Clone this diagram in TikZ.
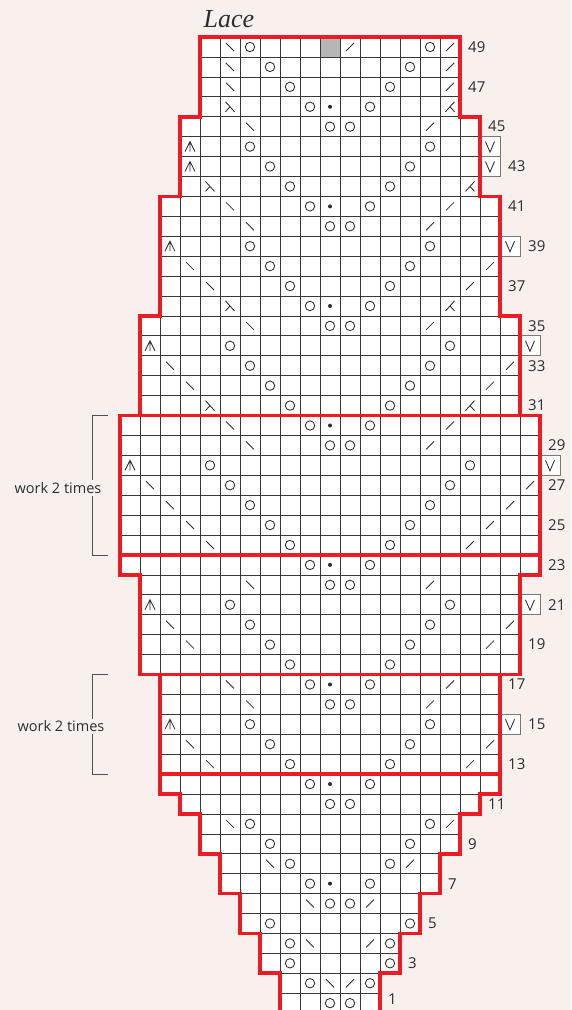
\documentclass[tikz,border=0pt]{standalone}
\usepackage{fontspec}
\setmainfont{Open Sans}
\newfontfamily\titlefont{Liberation Serif}
\definecolor{bg}{RGB}{247,240,237}
\definecolor{redline}{RGB}{237,28,36}
\definecolor{ink}{RGB}{45,45,45}
\definecolor{gridc}{RGB}{55,55,55}
\definecolor{vboxc}{RGB}{120,120,120}
\definecolor{brkc}{RGB}{80,80,80}
\definecolor{graycell}{RGB}{186,181,181}
\newcommand\KnO[2]{\draw[sym] (#1,{49-#2}) circle[radius=4.7pt];}
\newcommand\KnB[2]{\draw[sym,shift={(#1,{49-#2})}] (-4pt,4pt) -- (4pt,-4pt);}
\newcommand\KnS[2]{\draw[sym,shift={(#1,{49-#2})}] (-4pt,-4pt) -- (4pt,4pt);}
\newcommand\KnD[2]{\fill[ink] (#1,{49-#2}) circle[radius=2pt];}
\newcommand\KnA[2]{\draw[sym,shift={(#1,{49-#2})}] (-5pt,-5pt) -- (0,5pt) -- (5pt,-5pt) (0,5pt) -- (0,-5pt);}
\newcommand\KnL[2]{\draw[sym,shift={(#1,{49-#2})}] (-4.5pt,5pt) -- (4.5pt,-5pt) (0,0) -- (-4.5pt,-5pt);}
\newcommand\KnR[2]{\draw[sym,shift={(#1,{49-#2})}] (-4.5pt,-5pt) -- (4.5pt,5pt) (0,0) -- (4.5pt,-5pt);}
\begin{document}
\begin{tikzpicture}[x=20pt,y=-19.92pt,
  cellline/.style={draw=gridc,line width=0.7pt},
  sym/.style={draw=ink,line width=0.85pt},
  redl/.style={draw=redline,line width=3.6pt,line join=miter},
  vbox/.style={draw=vboxc,line width=0.8pt,fill=white},
  rowlab/.style={font=\fontsize{15}{17}\selectfont,text=ink,anchor=west,inner sep=0pt},
  worklab/.style={font=\fontsize{14.5}{16}\selectfont,text=ink,fill=bg,inner sep=2pt},
  brk/.style={draw=brkc,line width=0.7pt}]
\useasboundingbox[fill=bg] (-16.5,-2.3594) rectangle (12.05,48.3434);
\clip (-16.5,-2.3594) rectangle (12.05,48.3434);
\def\rowlist{1/2,2/2,3/3,4/3,5/4,6/4,7/5,8/5,9/6,10/6,11/7,12/8,13/8,14/8,15/8,16/8,17/8,18/9,19/9,20/9,21/9,22/9,23/10,24/10,25/10,26/10,27/10,28/10,29/10,30/10,31/9,32/9,33/9,34/9,35/9,36/8,37/8,38/8,39/8,40/8,41/8,42/7,43/7,44/7,45/7,46/6,47/6,48/6,49/6}
\foreach \r/\w in \rowlist{
  \pgfmathtruncatemacro\v{49-\r}
  \fill[white] (-\w-0.5,\v-0.5) rectangle (\w+0.5,\v+0.5);
}
\fill[graycell] (-0.5,-0.5) rectangle (0.5,0.5);
\foreach \r/\w in \rowlist{
  \pgfmathtruncatemacro\v{49-\r}
  \foreach \c in {-\w,...,\w}{\draw[cellline] (\c-0.5,\v-0.5) rectangle (\c+0.5,\v+0.5);}
}
% V boxes outside the chart
\foreach \c/\r in {8/44,8/43,9/39,10/34,11/28,10/21,9/15}{
  \draw[vbox] (\c-0.5,49-\r-0.5) rectangle (\c+0.5,49-\r+0.5);
  \draw[sym,shift={(\c,{49-\r})}] (-4.5pt,5pt) -- (0,-5.5pt) -- (4.5pt,5pt);
}
% symbols
\foreach \r/\c/\t in {49/-5/B,49/-4/O,49/1/S,49/5/O,49/6/S,
48/-5/B,48/-3/O,48/4/O,48/6/S,
47/-5/B,47/-2/O,47/3/O,47/6/S,
46/-5/L,46/-1/O,46/0/D,46/2/O,46/6/R,
45/-4/B,45/0/O,45/1/O,45/5/S,
44/-7/A,44/-4/O,44/5/O,
43/-7/A,43/-3/O,43/4/O,
42/-6/L,42/-2/O,42/3/O,42/7/R,
41/-5/B,41/-1/O,41/0/D,41/2/O,41/6/S,
40/-4/B,40/0/O,40/1/O,40/5/S,
39/-8/A,39/-4/O,39/5/O,
38/-7/B,38/-3/O,38/4/O,38/8/S,
37/-6/B,37/-2/O,37/3/O,37/7/S,
36/-5/L,36/-1/O,36/0/D,36/2/O,36/6/R,
35/-4/B,35/0/O,35/1/O,35/5/S,
34/-9/A,34/-5/O,34/6/O,
33/-8/B,33/-4/O,33/5/O,33/9/S,
32/-7/B,32/-3/O,32/4/O,32/8/S,
31/-6/L,31/-2/O,31/3/O,31/7/R,
30/-5/B,30/-1/O,30/0/D,30/2/O,30/6/S,
29/-4/B,29/0/O,29/1/O,29/5/S,
28/-10/A,28/-6/O,28/7/O,
27/-9/B,27/-5/O,27/6/O,27/10/S,
26/-8/B,26/-4/O,26/5/O,26/9/S,
25/-7/B,25/-3/O,25/4/O,25/8/S,
24/-6/B,24/-2/O,24/3/O,24/7/S,
23/-1/O,23/0/D,23/2/O,
22/-4/B,22/0/O,22/1/O,22/5/S,
21/-9/A,21/-5/O,21/6/O,
20/-8/B,20/-4/O,20/5/O,20/9/S,
19/-7/B,19/-3/O,19/4/O,19/8/S,
18/-2/O,18/3/O,
17/-5/B,17/-1/O,17/0/D,17/2/O,17/6/S,
16/-4/B,16/0/O,16/1/O,16/5/S,
15/-8/A,15/-4/O,15/5/O,
14/-7/B,14/-3/O,14/4/O,14/8/S,
13/-6/B,13/-2/O,13/3/O,13/7/S,
12/-1/O,12/0/D,12/2/O,
11/0/O,11/1/O,
10/-5/B,10/-4/O,10/5/O,10/6/S,
9/-3/O,9/4/O,
8/-3/B,8/-2/O,8/3/O,8/4/S,
7/-1/O,7/0/D,7/2/O,
6/-1/B,6/0/O,6/1/O,6/2/S,
5/-3/O,5/4/O,
4/-2/O,4/-1/B,4/2/S,4/3/O,
3/-2/O,3/3/O,
2/-1/O,2/0/B,2/1/S,2/2/O,
1/0/O,1/1/O}{\csname Kn\t\endcsname{\c}{\r}}
% red outline
\draw[redl] (-6.5,-0.5) -- (6.5,-0.5) -- (6.5,3.5) -- (7.5,3.5) -- (7.5,7.5) -- (8.5,7.5) -- (8.5,13.5) -- (9.5,13.5) -- (9.5,18.5) -- (10.5,18.5) -- (10.5,26.5) -- (9.5,26.5) -- (9.5,31.5) -- (8.5,31.5) -- (8.5,37.5) -- (7.5,37.5) -- (7.5,38.5) -- (6.5,38.5) -- (6.5,40.5) -- (5.5,40.5) -- (5.5,42.5) -- (4.5,42.5) -- (4.5,44.5) -- (3.5,44.5) -- (3.5,46.5) -- (2.5,46.5) -- (2.5,48.5)
 -- (-2.5,48.5) -- (-2.5,46.5) -- (-3.5,46.5) -- (-3.5,44.5) -- (-4.5,44.5) -- (-4.5,42.5) -- (-5.5,42.5) -- (-5.5,40.5) -- (-6.5,40.5) -- (-6.5,38.5) -- (-7.5,38.5) -- (-7.5,37.5) -- (-8.5,37.5) -- (-8.5,31.5) -- (-9.5,31.5) -- (-9.5,26.5) -- (-10.5,26.5) -- (-10.5,18.5) -- (-9.5,18.5) -- (-9.5,13.5) -- (-8.5,13.5) -- (-8.5,7.5) -- (-7.5,7.5) -- (-7.5,3.5) -- (-6.5,3.5) -- cycle;
\draw[redl] (-10.5,18.5) -- (10.5,18.5) (-10.5,25.5) -- (10.5,25.5) (-8.5,31.5) -- (8.5,31.5) (-8.5,36.5) -- (8.5,36.5);
% row labels
\foreach \r/\e in {49/6.5,47/6.5,45/7.5,43/8.5,41/8.5,39/9.5,37/8.5,35/9.5,33/9.5,31/9.5,29/10.5,27/10.5,25/10.5,23/10.5,21/10.5,19/9.5,17/8.5,15/9.5,13/8.5,11/7.5,9/6.5,7/5.5,5/4.5,3/3.5}
  \node[rowlab] (l\r) at (\e+0.4,49-\r) {\r};
\node[rowlab] (l1) at (2.9,47.82) {1};
% brackets
\coordinate (b1t) at (-11.1,18.5); \coordinate (b1b) at (-11.1,25.5);
\coordinate (b2t) at (-11.1,31.5); \coordinate (b2b) at (-11.1,36.5);
\draw[brk] (b1t) -- (-11.9,18.5) -- (-11.9,25.5) -- (b1b);
\draw[brk] (b2t) -- (-11.9,31.5) -- (-11.9,36.5) -- (b2b);
\node[worklab] (w1) at (-13.6,22.14) {work 2 times};
\node[worklab] (w2) at (-13.45,34.09) {work 2 times};
% title
\node[font=\titlefont\itshape\fontsize{26}{30}\selectfont,text=ink,inner sep=0pt] (title) at (-5.05,-1.406) {Lace};
\end{tikzpicture}
\end{document}
